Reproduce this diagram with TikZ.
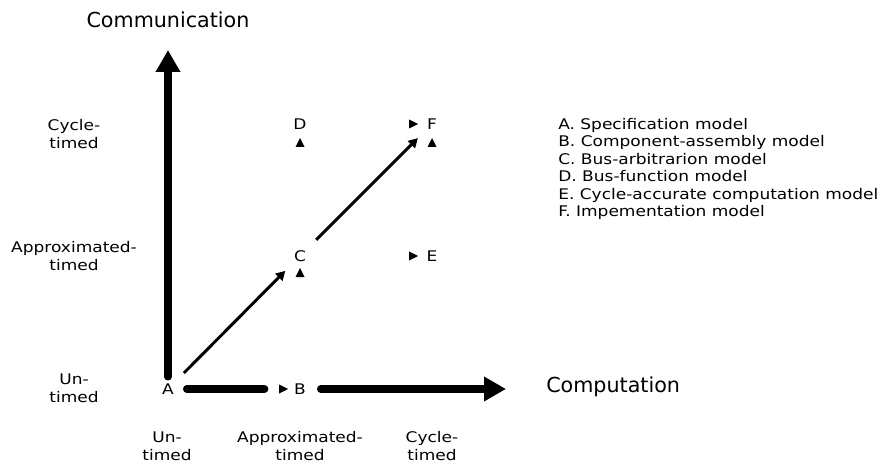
\documentclass[tikz,border=0pt]{standalone}
\usepackage{fontspec}
\setmainfont{DejaVu Sans}
\newfontfamily\widefont{DejaVu Sans}[FakeStretch=1.16]
\usetikzlibrary{arrows.meta}
\begin{document}
\begin{tikzpicture}[x=0.75pt,y=-0.75pt,
  letter/.style={inner sep=0pt,font=\widefont\fontsize{11}{13}\selectfont},
  level/.style={align=center,inner sep=0pt,font=\widefont\fontsize{11}{13.5}\selectfont},
  axistitle/.style={inner sep=0pt,font=\fontsize{15.5}{18}\selectfont},
  axis/.style={line width=5.7pt,line cap=round,-{Triangle[length=16.5pt,width=17.5pt]}},
  bar/.style={line width=5.7pt,line cap=round},
  step arrow/.style={line width=2.2pt,-{Triangle[length=7pt,width=7.5pt]},shorten <=11pt,shorten >=9.5pt},
  rtri/.pic={\fill (-4,-4.5) -- (5,0) -- (-4,4.5) -- cycle;},
  utri/.pic={\fill (-4.5,4) -- (0,-5) -- (4.5,4) -- cycle;}]
\useasboundingbox (0,0) rectangle (880,466);

% model points
\node[letter] (A) at (168,389) {A};
\node[letter] (B) at (300,389) {B};
\node[letter] (C) at (300,256) {C};
\node[letter] (D) at (300,124) {D};
\node[letter] (E) at (432,256) {E};
\node[letter] (F) at (432,124) {F};

% axis end points
\coordinate (commtip) at (168,50);
\coordinate (comptip) at (506,389);

% axes
\draw[axis,shorten <=5pt] (A) -- (commtip);
\draw[bar,shorten <=9.5pt,shorten >=22pt] (A) -- (B);
\draw[axis,shorten <=11pt] (B) -- (comptip);

% refinement steps
\draw[step arrow] (A) -- (C);
\draw[step arrow] (C) -- (F);

% small markers
\pic at (283,389) {rtri};
\pic at (300,143) {utri};
\pic at (300,273) {utri};
\pic at (413,256) {rtri};
\pic at (413,124) {rtri};
\pic at (432,143) {utri};

% axis titles
\node[axistitle] (comm) at (168,20) {Communication};
\node[axistitle,anchor=west] (comp) at (546,387) {Computation};

% vertical levels
\node[level] (vcyc) at (74,134) {Cycle-\\timed};
\node[level] (vapp) at (74,256) {Approximated-\\timed};
\node[level] (vun) at (74,388) {Un-\\timed};

% horizontal levels
\node[level] (hun) at (167,446) {Un-\\timed};
\node[level] (happ) at (300,446) {Approximated-\\timed};
\node[level] (hcyc) at (432,446) {Cycle-\\timed};

% legend
\node[anchor=west,align=left,inner sep=0pt,font=\widefont\fontsize{11}{13.1}\selectfont] (legend) at (558,169)
  {A. Specification model\\
   B. Component-assembly model\\
   C. Bus-arbitrarion model\\
   D. Bus-function model\\
   E. Cycle-accurate computation model\\
   F. Impementation model};
\end{tikzpicture}
\end{document}
